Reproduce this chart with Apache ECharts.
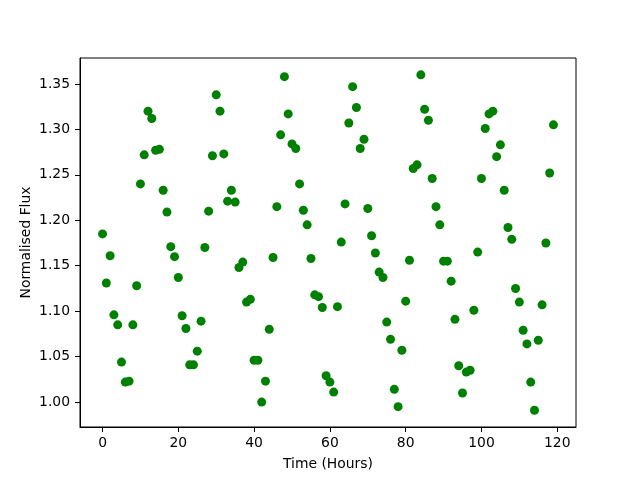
<!DOCTYPE html>
<html><head><meta charset="utf-8">
<script src="https://cdn.jsdelivr.net/npm/echarts@6/dist/echarts.min.js"></script>
<style>html,body{margin:0;padding:0;background:#fff}#c{width:640px;height:480px}</style>
</head><body><div id="c"></div>
<script>
const hours = Array.from({length:120},(_,i)=>i);
const flux = [1.185,1.131,1.161,1.096,1.085,1.044,1.022,1.023,1.085,1.128,
1.240,1.272,1.320,1.312,1.277,1.278,1.233,1.209,1.171,1.160,
1.137,1.095,1.081,1.041,1.041,1.056,1.089,1.170,1.210,1.271,
1.338,1.320,1.273,1.221,1.233,1.220,1.148,1.154,1.110,1.113,
1.046,1.046,1.000,1.023,1.080,1.159,1.215,1.294,1.358,1.317,
1.284,1.279,1.240,1.211,1.195,1.158,1.118,1.116,1.104,1.029,
1.022,1.011,1.105,1.176,1.218,1.307,1.347,1.324,1.279,1.289,
1.213,1.183,1.164,1.143,1.137,1.088,1.069,1.014,0.995,1.057,
1.111,1.156,1.257,1.261,1.360,1.322,1.310,1.246,1.215,1.195,
1.155,1.155,1.133,1.091,1.040,1.010,1.033,1.035,1.101,1.165,
1.246,1.301,1.317,1.320,1.270,1.283,1.233,1.192,1.179,1.125,
1.110,1.079,1.064,1.022,0.991,1.068,1.107,1.175,1.252,1.305];
const xTicks = [0,20,40,60,80,100,120];
const yTicks = [1.00,1.05,1.10,1.15,1.20,1.25,1.30,1.35];

const font = 'DejaVu Sans';
const chart = echarts.init(document.getElementById('c'), null, {renderer:'canvas'});
chart.setOption({
  animation:false,
  backgroundColor:'#fff',
  grid:{left:80, top:58, width:496, height:369, show:true, borderColor:'#000', borderWidth:1, backgroundColor:'transparent'},
  xAxis:{type:'value', min:-5.95, max:124.95,
    name:'Time (Hours)', nameLocation:'middle', nameGap:30, nameMoveOverlap:false,
    nameTextStyle:{fontFamily:font, fontSize:13.9, color:'#000'},
    axisLine:{show:true, onZero:false, lineStyle:{color:'#000', width:1}},
    splitLine:{show:false},
    axisTick:{show:true, length:5, lineStyle:{color:'#000'}, customValues:xTicks},
    axisLabel:{color:'#000', fontFamily:font, fontSize:13.9, margin:9, customValues:xTicks, formatter:v=>String(v)}
  },
  yAxis:{type:'value', min:0.9726, max:1.3785,
    name:'Normalised Flux', nameLocation:'middle', nameGap:47, nameRotate:90, nameMoveOverlap:false,
    nameTextStyle:{fontFamily:font, fontSize:13.9, color:'#000'},
    axisLine:{show:true, onZero:false, lineStyle:{color:'#000', width:1}},
    splitLine:{show:false},
    axisTick:{show:true, length:5, lineStyle:{color:'#000'}, customValues:yTicks},
    axisLabel:{color:'#000', fontFamily:font, fontSize:13.9, margin:10, customValues:yTicks, formatter:v=>v.toFixed(2)}
  },
  series:[{type:'scatter', data:hours.map((h,i)=>[h,flux[i]]), symbol:'circle', symbolSize:9,
    itemStyle:{color:'#008000', opacity:1}}]
});
</script></body></html>
